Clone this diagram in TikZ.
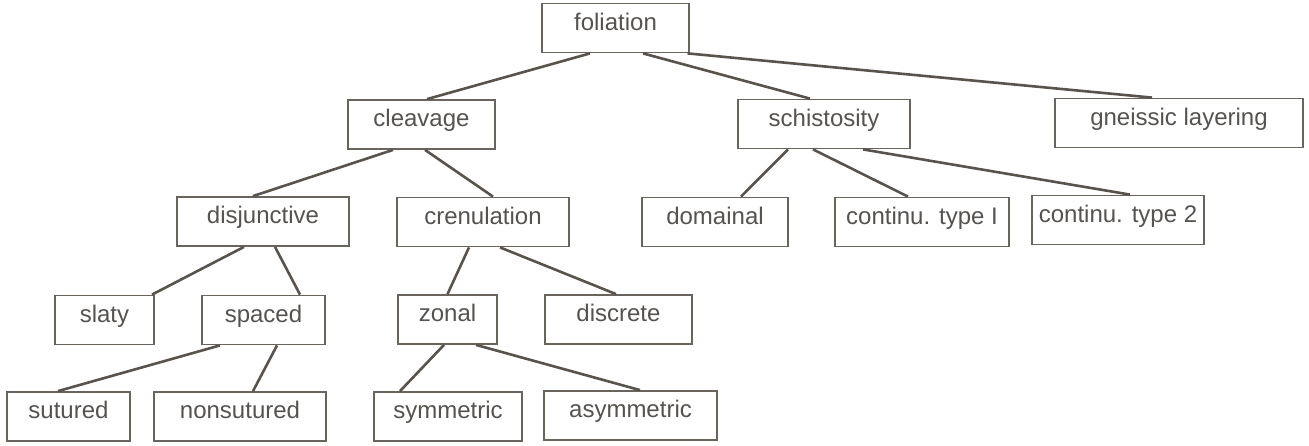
\documentclass[tikz,border=0pt]{standalone}
\usepackage{fontspec}
\setmainfont{Liberation Sans}
\usepackage{tikz}
\definecolor{inkline}{HTML}{59534E}
\definecolor{inkbox}{HTML}{6A645F}
\definecolor{inktext}{HTML}{55524F}
\tikzset{box/.style = {draw=inkbox, line width=1.8pt, text=inktext,
    minimum height=49pt, inner sep=0pt, text height=0.74em, text depth=0.3em,
    font=\fontsize{24}{28}\selectfont},
  link/.style = {draw=inkline, line width=2.6pt}}

\begin{document}
\begin{tikzpicture}[x=1pt,y=-1pt]
    \useasboundingbox (0,0) rectangle (1309,446);

    % top level
    \node[box,minimum width=147pt](fol)at(615.5,28){foliation};

    \node[box,minimum width=147pt](clv)at(421.5,124.5){cleavage};
    \node[box,minimum width=172pt](sch)at(824,124){schistosity};
    \node[box,minimum width=248pt](gne)at(1179,123){gneissic layering};

    \node[box,minimum width=172pt](dis)at(263,221.5){disjunctive};
    \node[box,minimum width=172pt](cre)at(483,222){crenulation};
    \node[box,minimum width=146pt](dom)at(715,222){domainal};
    \node[box,minimum width=174pt](ct1)at(922,222){continu. type I};
    \node[box,minimum width=172pt](ct2)at(1118,220){continu. type 2};

    \node[box,minimum width=99pt](sla)at(104.5,320){slaty};
    \node[box,minimum width=123pt](spa)at(263.5,320){spaced};
    \node[box,minimum width=99pt](zon)at(447.5,319.5){zonal};
    \node[box,minimum width=147pt](dsc)at(618.5,319.5){discrete};

    \node[box,minimum width=123pt](sut)at(68.5,416.5){sutured};
    \node[box,minimum width=172pt](nsu)at(240,416.5){nonsutured};
    \node[box,minimum width=148pt](sym)at(448,416.5){symmetric};
    \node[box,minimum width=173pt](asy)at(630.5,415.5){asymmetric};

    % links
    \draw[link]([xshift=-25.5]fol.south)--([xshift=5.5]clv.north);
    \draw[link]([xshift=27.5]fol.south)--([xshift=-14]sch.north);
    \draw[link]([xshift=72]fol.south)--([xshift=-27]gne.north);

    \draw[link]([xshift=-28.5]clv.south)--([xshift=-10]dis.north);
    \draw[link]([xshift=3.5]clv.south)--([xshift=10]cre.north);

    \draw[link]([xshift=-36]sch.south)--([xshift=26]dom.north);
    \draw[link]([xshift=-11]sch.south)--([xshift=-14]ct1.north);
    \draw[link]([xshift=39]sch.south)--([xshift=12]ct2.north);

    \draw[link]([xshift=-19]dis.south)--([xshift=47.5]sla.north);
    \draw[link]([xshift=12]dis.south)--([xshift=36.5]spa.north);
    \draw[link]([xshift=-14]cre.south)--(zon.north);
    \draw[link]([xshift=17]cre.south)--([xshift=-2.5]dsc.north);

    \draw[link]([xshift=-43.5]spa.south)--([xshift=-10.5]sut.north);
    \draw[link]([xshift=13.5]spa.south)--([xshift=13]nsu.north);
    \draw[link]([xshift=-3.5]zon.south)--([xshift=-48]sym.north);
    \draw[link]([xshift=28.5]zon.south)--([xshift=9.5]asy.north);
\end{tikzpicture}
\end{document}
